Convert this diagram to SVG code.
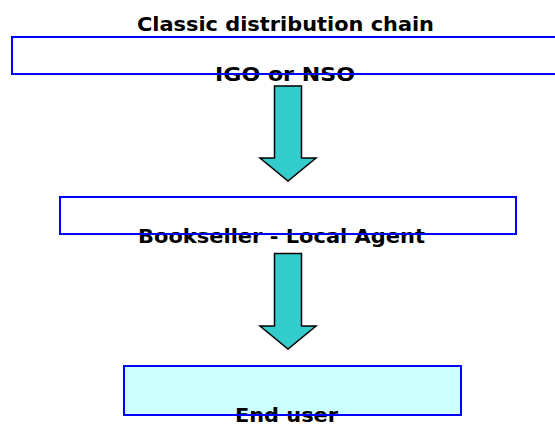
<svg xmlns="http://www.w3.org/2000/svg" width="555" height="425" viewBox="0 0 555 425">
<style>
.fill{fill:#fff;stroke:none}
.edge{fill:none;stroke:#0000ff;stroke-width:2}
.t{font-family:"DejaVu Sans",Verdana,sans-serif;font-weight:bold;font-size:19px;text-anchor:middle;fill:#000}
.arrow{fill:#33cccc;stroke:#000;stroke-width:1.5;stroke-linejoin:miter}
</style>
<rect width="555" height="425" fill="#fff"/>
<text class="t" x="285.5" y="30.5" textLength="297" lengthAdjust="spacingAndGlyphs">Classic distribution chain</text>
<g id="igo">
<rect class="fill" x="12" y="37" width="560" height="37"/>
<text class="t" x="285" y="81" textLength="140" lengthAdjust="spacingAndGlyphs">IGO or NSO</text>
<rect class="edge" x="12" y="37" width="560" height="37"/>
</g>
<g id="bookseller">
<rect class="fill" x="60" y="197" width="456" height="37"/>
<text class="t" x="281.5" y="242.5" textLength="287" lengthAdjust="spacingAndGlyphs">Bookseller - Local Agent</text>
<rect class="edge" x="60" y="197" width="456" height="37"/>
</g>
<g id="enduser">
<rect class="fill" x="124" y="366" width="337" height="49" style="fill:#ccffff"/>
<text class="t" x="286.5" y="421.5" textLength="103" lengthAdjust="spacingAndGlyphs">End user</text>
<rect class="edge" x="124" y="366" width="337" height="49"/>
</g>
<g id="connectors">
<polygon class="arrow" points="274.5,86 301.5,86 301.5,158 316,158 288,181 260,158 274.5,158"/>
<polygon class="arrow" points="274.5,253.5 301.5,253.5 301.5,326 316,326 288,349 260,326 274.5,326"/>
</g>
</svg>
